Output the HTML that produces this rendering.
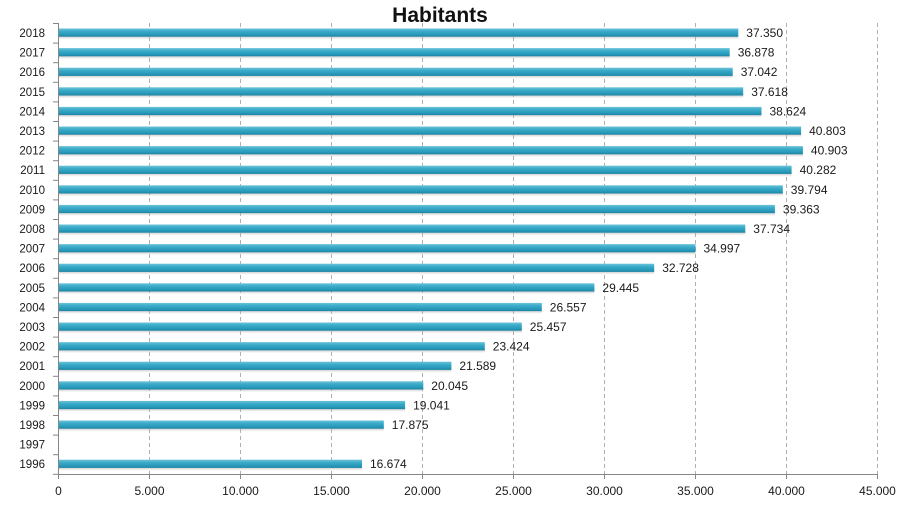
<!DOCTYPE html>
<html><head><meta charset="utf-8"><style>
html,body{margin:0;padding:0;background:#fff;}
svg{display:block;font-family:"Liberation Sans",sans-serif;}
</style></head><body>
<svg width="901" height="512" viewBox="0 0 901 512" xmlns="http://www.w3.org/2000/svg">
<defs>
<linearGradient id="bg" x1="0" y1="0" x2="0" y2="1">
<stop offset="0" stop-color="#6cc3d9"/>
<stop offset="0.35" stop-color="#3aabc9"/>
<stop offset="0.75" stop-color="#2799b9"/>
<stop offset="1" stop-color="#1d84a3"/>
</linearGradient>
<linearGradient id="sh" x1="0" y1="0" x2="0" y2="1">
<stop offset="0" stop-color="#8a8a8a" stop-opacity="0.7"/>
<stop offset="1" stop-color="#c8c8c8" stop-opacity="0.1"/>
</linearGradient>
</defs>
<rect width="901" height="512" fill="#fff"/>
<text x="440" y="22" text-anchor="middle" font-size="21" font-weight="bold" fill="#111">Habitants</text>
<g stroke="#b0b0b0" stroke-width="1" stroke-dasharray="4,3">
<line x1="149.5" y1="23" x2="149.5" y2="474"/>
<line x1="240.5" y1="23" x2="240.5" y2="474"/>
<line x1="331.5" y1="23" x2="331.5" y2="474"/>
<line x1="422.5" y1="23" x2="422.5" y2="474"/>
<line x1="513.5" y1="23" x2="513.5" y2="474"/>
<line x1="604.5" y1="23" x2="604.5" y2="474"/>
<line x1="695.5" y1="23" x2="695.5" y2="474"/>
<line x1="786.5" y1="23" x2="786.5" y2="474"/>
<line x1="877.5" y1="23" x2="877.5" y2="474"/>
</g>
<g id="bars">
<g transform="translate(0,32.8)"><rect x="58.5" y="2.5" width="679.8" height="4" fill="url(#sh)"/><rect x="58.5" y="-4.3" width="679.8" height="8.2" fill="url(#bg)"/></g>
<g transform="translate(0,52.4)"><rect x="58.5" y="2.5" width="671.2" height="4" fill="url(#sh)"/><rect x="58.5" y="-4.3" width="671.2" height="8.2" fill="url(#bg)"/></g>
<g transform="translate(0,72.0)"><rect x="58.5" y="2.5" width="674.2" height="4" fill="url(#sh)"/><rect x="58.5" y="-4.3" width="674.2" height="8.2" fill="url(#bg)"/></g>
<g transform="translate(0,91.6)"><rect x="58.5" y="2.5" width="684.7" height="4" fill="url(#sh)"/><rect x="58.5" y="-4.3" width="684.7" height="8.2" fill="url(#bg)"/></g>
<g transform="translate(0,111.2)"><rect x="58.5" y="2.5" width="703.0" height="4" fill="url(#sh)"/><rect x="58.5" y="-4.3" width="703.0" height="8.2" fill="url(#bg)"/></g>
<g transform="translate(0,130.8)"><rect x="58.5" y="2.5" width="742.6" height="4" fill="url(#sh)"/><rect x="58.5" y="-4.3" width="742.6" height="8.2" fill="url(#bg)"/></g>
<g transform="translate(0,150.4)"><rect x="58.5" y="2.5" width="744.4" height="4" fill="url(#sh)"/><rect x="58.5" y="-4.3" width="744.4" height="8.2" fill="url(#bg)"/></g>
<g transform="translate(0,170.0)"><rect x="58.5" y="2.5" width="733.1" height="4" fill="url(#sh)"/><rect x="58.5" y="-4.3" width="733.1" height="8.2" fill="url(#bg)"/></g>
<g transform="translate(0,189.6)"><rect x="58.5" y="2.5" width="724.3" height="4" fill="url(#sh)"/><rect x="58.5" y="-4.3" width="724.3" height="8.2" fill="url(#bg)"/></g>
<g transform="translate(0,209.2)"><rect x="58.5" y="2.5" width="716.4" height="4" fill="url(#sh)"/><rect x="58.5" y="-4.3" width="716.4" height="8.2" fill="url(#bg)"/></g>
<g transform="translate(0,228.8)"><rect x="58.5" y="2.5" width="686.8" height="4" fill="url(#sh)"/><rect x="58.5" y="-4.3" width="686.8" height="8.2" fill="url(#bg)"/></g>
<g transform="translate(0,248.4)"><rect x="58.5" y="2.5" width="637.0" height="4" fill="url(#sh)"/><rect x="58.5" y="-4.3" width="637.0" height="8.2" fill="url(#bg)"/></g>
<g transform="translate(0,268.0)"><rect x="58.5" y="2.5" width="595.7" height="4" fill="url(#sh)"/><rect x="58.5" y="-4.3" width="595.7" height="8.2" fill="url(#bg)"/></g>
<g transform="translate(0,287.6)"><rect x="58.5" y="2.5" width="535.9" height="4" fill="url(#sh)"/><rect x="58.5" y="-4.3" width="535.9" height="8.2" fill="url(#bg)"/></g>
<g transform="translate(0,307.2)"><rect x="58.5" y="2.5" width="483.3" height="4" fill="url(#sh)"/><rect x="58.5" y="-4.3" width="483.3" height="8.2" fill="url(#bg)"/></g>
<g transform="translate(0,326.8)"><rect x="58.5" y="2.5" width="463.3" height="4" fill="url(#sh)"/><rect x="58.5" y="-4.3" width="463.3" height="8.2" fill="url(#bg)"/></g>
<g transform="translate(0,346.4)"><rect x="58.5" y="2.5" width="426.3" height="4" fill="url(#sh)"/><rect x="58.5" y="-4.3" width="426.3" height="8.2" fill="url(#bg)"/></g>
<g transform="translate(0,366.0)"><rect x="58.5" y="2.5" width="392.9" height="4" fill="url(#sh)"/><rect x="58.5" y="-4.3" width="392.9" height="8.2" fill="url(#bg)"/></g>
<g transform="translate(0,385.6)"><rect x="58.5" y="2.5" width="364.8" height="4" fill="url(#sh)"/><rect x="58.5" y="-4.3" width="364.8" height="8.2" fill="url(#bg)"/></g>
<g transform="translate(0,405.2)"><rect x="58.5" y="2.5" width="346.6" height="4" fill="url(#sh)"/><rect x="58.5" y="-4.3" width="346.6" height="8.2" fill="url(#bg)"/></g>
<g transform="translate(0,424.8)"><rect x="58.5" y="2.5" width="325.3" height="4" fill="url(#sh)"/><rect x="58.5" y="-4.3" width="325.3" height="8.2" fill="url(#bg)"/></g>
<g transform="translate(0,464.0)"><rect x="58.5" y="2.5" width="303.5" height="4" fill="url(#sh)"/><rect x="58.5" y="-4.3" width="303.5" height="8.2" fill="url(#bg)"/></g>
</g>
<g font-size="12" fill="#1a1a1a">
<text x="746.3" y="37">37.350</text>
<text x="737.7" y="56.6">36.878</text>
<text x="740.7" y="76.2">37.042</text>
<text x="751.2" y="95.8">37.618</text>
<text x="769.5" y="115.4">38.624</text>
<text x="809.1" y="135">40.803</text>
<text x="810.9" y="154.6">40.903</text>
<text x="799.6" y="174.2">40.282</text>
<text x="790.8" y="193.8">39.794</text>
<text x="782.9" y="213.4">39.363</text>
<text x="753.3" y="233">37.734</text>
<text x="703.5" y="252.6">34.997</text>
<text x="662.2" y="272.2">32.728</text>
<text x="602.4" y="291.8">29.445</text>
<text x="549.8" y="311.4">26.557</text>
<text x="529.8" y="331">25.457</text>
<text x="492.8" y="350.6">23.424</text>
<text x="459.4" y="370.2">21.589</text>
<text x="431.3" y="389.8">20.045</text>
<text x="413.1" y="409.4">19.041</text>
<text x="391.8" y="429">17.875</text>
<text x="370" y="468.2">16.674</text>
</g>
<g font-size="11.5" fill="#1a1a1a" text-anchor="end">
<text x="45" y="37">2018</text>
<text x="45" y="56.6">2017</text>
<text x="45" y="76.2">2016</text>
<text x="45" y="95.8">2015</text>
<text x="45" y="115.4">2014</text>
<text x="45" y="135">2013</text>
<text x="45" y="154.6">2012</text>
<text x="45" y="174.2">2011</text>
<text x="45" y="193.8">2010</text>
<text x="45" y="213.4">2009</text>
<text x="45" y="233">2008</text>
<text x="45" y="252.6">2007</text>
<text x="45" y="272.2">2006</text>
<text x="45" y="291.8">2005</text>
<text x="45" y="311.4">2004</text>
<text x="45" y="331">2003</text>
<text x="45" y="350.6">2002</text>
<text x="45" y="370.2">2001</text>
<text x="45" y="389.8">2000</text>
<text x="45" y="409.4">1999</text>
<text x="45" y="429">1998</text>
<text x="45" y="448.6">1997</text>
<text x="45" y="468.2">1996</text>
</g>
<g stroke="#868686" stroke-width="1">
<line x1="58.5" y1="23" x2="58.5" y2="474"/>
<line x1="58.5" y1="474.5" x2="877.5" y2="474.5"/>
<line x1="53" y1="23.5" x2="58.5" y2="23.5"/>
<line x1="53" y1="43.1" x2="58.5" y2="43.1"/>
<line x1="53" y1="62.7" x2="58.5" y2="62.7"/>
<line x1="53" y1="82.3" x2="58.5" y2="82.3"/>
<line x1="53" y1="101.9" x2="58.5" y2="101.9"/>
<line x1="53" y1="121.5" x2="58.5" y2="121.5"/>
<line x1="53" y1="141.1" x2="58.5" y2="141.1"/>
<line x1="53" y1="160.7" x2="58.5" y2="160.7"/>
<line x1="53" y1="180.3" x2="58.5" y2="180.3"/>
<line x1="53" y1="199.9" x2="58.5" y2="199.9"/>
<line x1="53" y1="219.5" x2="58.5" y2="219.5"/>
<line x1="53" y1="239.1" x2="58.5" y2="239.1"/>
<line x1="53" y1="258.7" x2="58.5" y2="258.7"/>
<line x1="53" y1="278.3" x2="58.5" y2="278.3"/>
<line x1="53" y1="297.9" x2="58.5" y2="297.9"/>
<line x1="53" y1="317.5" x2="58.5" y2="317.5"/>
<line x1="53" y1="337.1" x2="58.5" y2="337.1"/>
<line x1="53" y1="356.7" x2="58.5" y2="356.7"/>
<line x1="53" y1="376.3" x2="58.5" y2="376.3"/>
<line x1="53" y1="395.9" x2="58.5" y2="395.9"/>
<line x1="53" y1="415.5" x2="58.5" y2="415.5"/>
<line x1="53" y1="435.1" x2="58.5" y2="435.1"/>
<line x1="53" y1="454.7" x2="58.5" y2="454.7"/>
<line x1="53" y1="474.3" x2="58.5" y2="474.3"/>
<line x1="58.5" y1="474" x2="58.5" y2="479"/>
<line x1="149.5" y1="474" x2="149.5" y2="479"/>
<line x1="240.5" y1="474" x2="240.5" y2="479"/>
<line x1="331.5" y1="474" x2="331.5" y2="479"/>
<line x1="422.5" y1="474" x2="422.5" y2="479"/>
<line x1="513.5" y1="474" x2="513.5" y2="479"/>
<line x1="604.5" y1="474" x2="604.5" y2="479"/>
<line x1="695.5" y1="474" x2="695.5" y2="479"/>
<line x1="786.5" y1="474" x2="786.5" y2="479"/>
<line x1="877.5" y1="474" x2="877.5" y2="479"/>
</g>
<g font-size="12" fill="#1a1a1a" text-anchor="middle">
<text x="58.5" y="495">0</text>
<text x="149.5" y="495">5.000</text>
<text x="240.5" y="495">10.000</text>
<text x="331.5" y="495">15.000</text>
<text x="422.5" y="495">20.000</text>
<text x="513.5" y="495">25.000</text>
<text x="604.5" y="495">30.000</text>
<text x="695.5" y="495">35.000</text>
<text x="786.5" y="495">40.000</text>
<text x="877.5" y="495">45.000</text>
</g>
</svg>
</body></html>
